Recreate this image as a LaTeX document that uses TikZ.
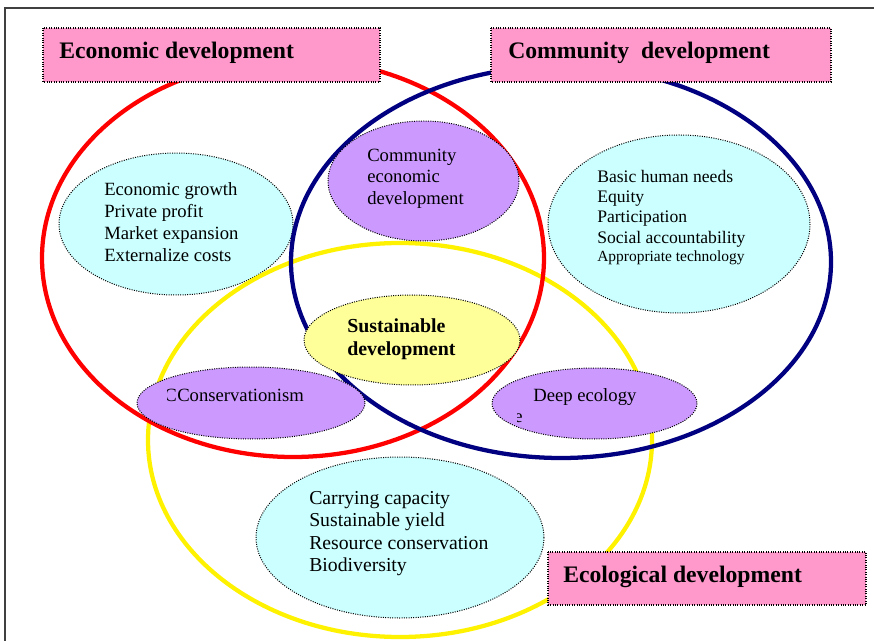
\documentclass[tikz,border=0pt]{standalone}
\usepackage{fontspec}
\setmainfont{Liberation Serif}
\definecolor{titlepink}{HTML}{FF99CC}
\definecolor{listcyan}{HTML}{CCFFFF}
\definecolor{ideapurple}{HTML}{CC99FF}
\definecolor{coreyellow}{HTML}{FFFF99}
\definecolor{ringnavy}{HTML}{000080}

\begin{document}
\begin{tikzpicture}[x=0.75pt,y=-0.75pt,
  ring/.style={line width=3.2pt},
  bubble/.style={draw=black,densely dotted,line width=0.75pt},
  titlebox/.style={draw=black,densely dotted,line width=0.8pt,fill=titlepink},
  txt/.style={inner sep=0pt,anchor=base west,font=\fontsize{14}{16}\selectfont},
  title/.style={inner sep=0pt,anchor=base west,font=\fontsize{17.75}{20}\selectfont\bfseries}]
  \useasboundingbox (0,0) rectangle (874,641);
  \draw [line width=1.2pt,black!75] (5,641)--(5,8)--(874,8);
  % list bubble under the rings
  \filldraw [bubble,fill=listcyan] (176,224) ellipse [x radius=117,y radius=71];
  \foreach \t [count=\i] in {Economic growth,Private profit,Market expansion,Externalize costs}
    \node [txt] (econ-\i) at (104,174+22*\i) {\t};
  % the three rings
  \draw [ring,yellow] (400,440) ellipse [x radius=252,y radius=197];
  \draw [ring,red] (293,258) ellipse [x radius=251,y radius=199];
  \draw [ring,ringnavy] (561,262) ellipse [x radius=270,y radius=196];
  % bubbles over the rings
  \filldraw [bubble,fill=ideapurple] (423.5,181) ellipse [x radius=95.5,y radius=60];
  \foreach \t [count=\i] in {Community,economic,development}
    \node [txt] (ced-\i) at (367,140+21.5*\i) {\t};
  \filldraw [bubble,fill=listcyan] (679,224) ellipse [x radius=131,y radius=89];
  \foreach \t [count=\i] in {Basic human needs,Equity,Participation,Social accountability}
    \node [txt,font=\fontsize{13.2}{15}\selectfont] (comm-\i) at (597,162+20.3*\i) {\t};
  \node [txt,font=\fontsize{11.6}{13}\selectfont] (comm-5) at (597,262) {Appropriate technology};
  \filldraw [bubble,fill=coreyellow] (412,340) ellipse [x radius=108,y radius=45];
  \node [txt,font=\fontsize{14.9}{17}\selectfont\bfseries] (sust-1) at (347,333) {Sustainable};
  \node [txt,font=\fontsize{14.9}{17}\selectfont\bfseries] (sust-2) at (347,355) {development};
  \filldraw [bubble,fill=ideapurple] (251,403) ellipse [x radius=114,y radius=36];
  \node [txt] (cons) at (177,401) {Conservationism};
  \begin{scope}
    \clip (167,380) rectangle (180,410);
    \node [txt,anchor=base east] (cons-c) at (cons.base west) {C};
  \end{scope}
  \filldraw [bubble,fill=ideapurple] (594.5,403.5) ellipse [x radius=102.5,y radius=35.5];
  \node [txt] (deep) at (533,402) {Deep ecology};
  \begin{scope}
    \clip (517,405) rectangle (525,425);
    \node [txt] (deep-e) at (514,422) {e};
  \end{scope}
  \filldraw [bubble,fill=listcyan] (400,537.5) ellipse [x radius=144,y radius=80.5];
  \foreach \t [count=\i] in {Carrying capacity,Sustainable yield,Resource conservation,Biodiversity}
    \node [txt,font=\fontsize{14.8}{17}\selectfont] (eco-\i) at (309,482+22.4*\i) {\t};
  % title boxes
  \filldraw [titlebox] (43,28) rectangle (380,82);
  \node [title] (econ-title) at (59,59) {Economic development};
  \filldraw [titlebox] (491,28) rectangle (831,82);
  \node [title] (comm-title) at (508,59) {Community\ \ development};
  \filldraw [titlebox] (548,552) rectangle (866,605);
  \node [title] (eco-title) at (563,582) {Ecological development};
\end{tikzpicture}
\end{document}
